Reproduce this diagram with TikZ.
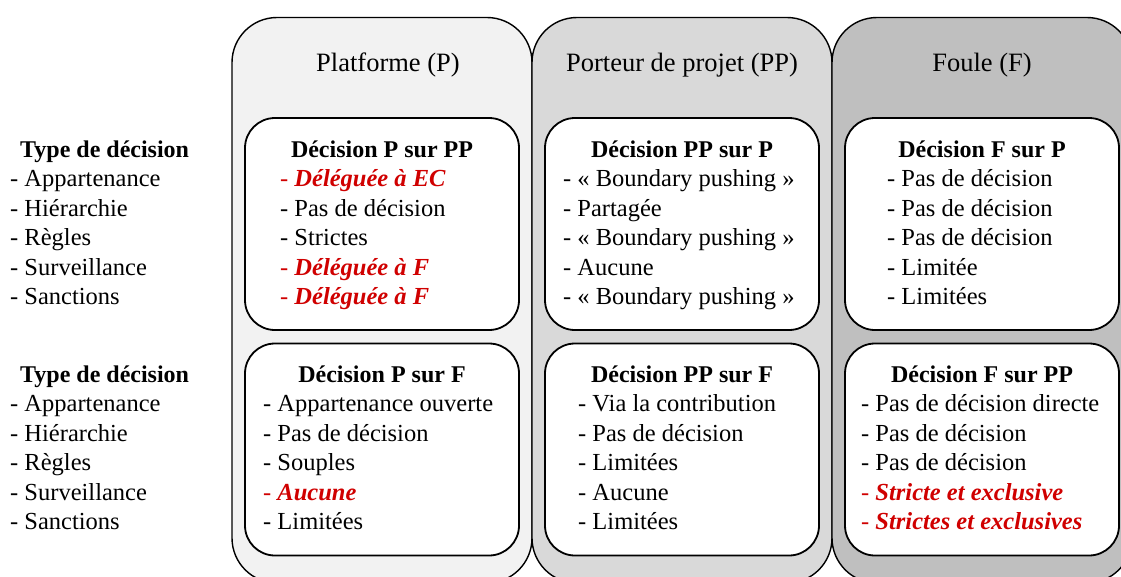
\documentclass[tikz,border=0pt]{standalone}
\usepackage{fontspec}
\setmainfont{Liberation Serif}
\definecolor{cP}{HTML}{F2F2F2}
\definecolor{cPP}{HTML}{D9D9D9}
\definecolor{cF}{HTML}{BFBFBF}
\definecolor{myred}{HTML}{D00000}
\newcommand\rdit[1]{\textcolor{myred}{- \textbf{\textit{#1}}}}
\newcommand\itemlist[4]{%
  \foreach \t [count=\i] in {#4}
    \node[txt, anchor=base west] (#1-\i) at ({#2},{#3+\i*29.5}) {\t};}
\begin{document}
\begin{tikzpicture}[x=1pt,y=-1pt,
  col/.style={draw=black, line width=1.4pt, rounded corners=45pt, rectangle,
    minimum width=300pt, minimum height=565.5pt, inner sep=0pt},
  dbox/.style={draw=black, line width=1.8pt, fill=white, rounded corners=30pt, rectangle,
    minimum width=274pt, minimum height=212pt, inner sep=0pt},
  txt/.style={font=\fontsize{24.5}{29.5}\selectfont, inner sep=0pt},
  head/.style={txt, font=\fontsize{24}{29.5}\selectfont\bfseries, anchor=base},
  title/.style={txt, font=\fontsize{26.5}{30}\selectfont, anchor=base}]
\useasboundingbox (0,0) rectangle (1121,576);
\clip (0,0) rectangle (1121,576);
% columns
\node[col, fill=cP]  (colP)  at (382,300.25) {};
\node[col, fill=cPP] (colPP) at (682,300.25) {};
\node[col, fill=cF]  (colF)  at (982,300.25) {};
% titles
\node[title] (tP)  at (388,71) {Platforme (P)};
\node[title] (tPP) at (682,71) {Porteur de projet (PP)};
\node[title] (tF)  at (982,71) {Foule (F)};
% decision boxes
\node[dbox] (b1t) at (382,224) {};
\node[dbox] (b2t) at (682,224) {};
\node[dbox] (b3t) at (982,224) {};
\node[dbox] (b1b) at (382,449.5) {};
\node[dbox] (b2b) at (682,449.5) {};
\node[dbox] (b3b) at (982,449.5) {};
% left labels
\node[head, anchor=base west] (lt) at (20,157) {Type de décision};
\itemlist{lti}{10}{157}{- Appartenance,- Hiérarchie,- Règles,- Surveillance,- Sanctions}
\node[head, anchor=base west] (lb) at (20,382) {Type de décision};
\itemlist{lbi}{10}{382}{- Appartenance,- Hiérarchie,- Règles,- Surveillance,- Sanctions}
% box 1 top
\node[head] (h1t) at (382,157) {Décision P sur PP};
\itemlist{i1t}{280}{157}{\rdit{Déléguée à EC},- Pas de décision,- Strictes,\rdit{Déléguée à F},\rdit{Déléguée à F}}
% box 2 top
\node[head] (h2t) at (682,157) {Décision PP sur P};
\itemlist{i2t}{563}{157}{- « Boundary pushing »,- Partagée,- « Boundary pushing »,- Aucune,- « Boundary pushing »}
% box 3 top
\node[head] (h3t) at (982,157) {Décision F sur P};
\itemlist{i3t}{887}{157}{- Pas de décision,- Pas de décision,- Pas de décision,- Limitée,- Limitées}
% box 1 bottom
\node[head] (h1b) at (382,382) {Décision P sur F};
\itemlist{i1b}{263}{382}{- Appartenance ouverte,- Pas de décision,- Souples,\rdit{Aucune},- Limitées}
% box 2 bottom
\node[head] (h2b) at (682,382) {Décision PP sur F};
\itemlist{i2b}{578}{382}{- Via la contribution,- Pas de décision,- Limitées,- Aucune,- Limitées}
% box 3 bottom
\node[head] (h3b) at (982,382) {Décision F sur PP};
\itemlist{i3b}{861}{382}{- Pas de décision directe,- Pas de décision,- Pas de décision,\rdit{Stricte et exclusive},\rdit{Strictes et exclusives}}
\end{tikzpicture}
\end{document}
